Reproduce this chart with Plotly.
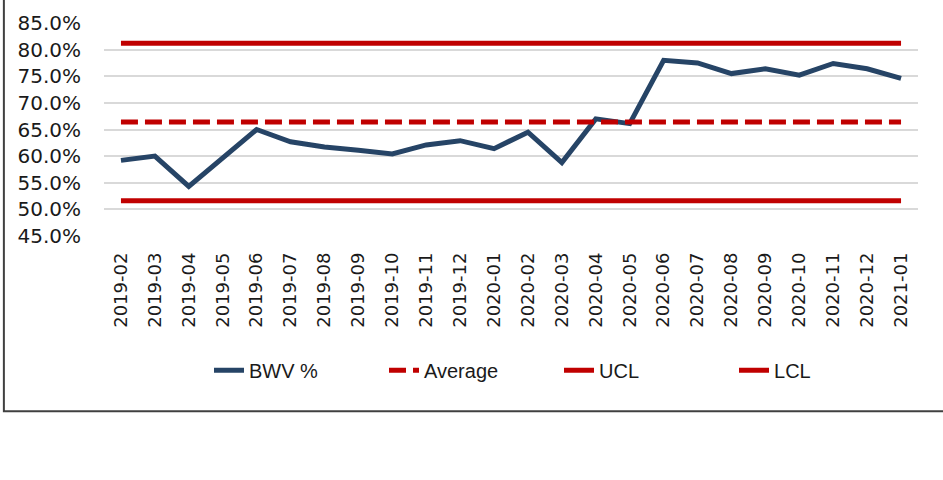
import plotly.graph_objects as go

months = ["2019-02", "2019-03", "2019-04", "2019-05", "2019-06", "2019-07", "2019-08",
          "2019-09", "2019-10", "2019-11", "2019-12", "2020-01", "2020-02", "2020-03",
          "2020-04", "2020-05", "2020-06", "2020-07", "2020-08", "2020-09", "2020-10",
          "2020-11", "2020-12", "2021-01"]
bwv = [0.592, 0.600, 0.543, 0.597, 0.650, 0.627, 0.617, 0.611, 0.604, 0.621, 0.629,
       0.614, 0.645, 0.588, 0.670, 0.661, 0.780, 0.775, 0.755, 0.764, 0.752, 0.774,
       0.764, 0.746]
average_value = 0.664
ucl_value = 0.812
lcl_value = 0.516

average = [average_value] * len(months)
ucl = [ucl_value] * len(months)
lcl = [lcl_value] * len(months)

NAVY = "#264466"
RED = "#C00000"

fig = go.Figure()
fig.add_trace(go.Scatter(x=months, y=bwv, name="BWV %", mode="lines",
                         line=dict(color=NAVY, width=5)))
fig.add_trace(go.Scatter(x=months, y=average, name="Average", mode="lines",
                         line=dict(color=RED, width=5, dash="17px,7px")))
fig.add_trace(go.Scatter(x=months, y=ucl, name="UCL", mode="lines",
                         line=dict(color=RED, width=5)))
fig.add_trace(go.Scatter(x=months, y=lcl, name="LCL", mode="lines",
                         line=dict(color=RED, width=5)))

fig.update_layout(
    width=943, height=480,
    margin=dict(l=104, r=25, t=23, b=244, autoexpand=False),
    paper_bgcolor="white", plot_bgcolor="white",
    font=dict(family="DejaVu Sans", size=18, color="#1a1a1a"),
    showlegend=True,
    legend=dict(orientation="h", x=0.129, xanchor="left", y=-0.63, yanchor="middle",
                font=dict(family="Liberation Sans", size=20, color="#1a1a1a"),
                entrywidth=130, entrywidthmode="pixels", bgcolor="rgba(0,0,0,0)"),
    xaxis=dict(type="category", range=[-0.5, len(months) - 0.5], tickangle=-90,
               showgrid=False, showline=False, zeroline=False, ticks="",
               ticklabelstandoff=12, automargin=False,
               tickfont=dict(family="DejaVu Sans", size=18)),
    yaxis=dict(range=[0.45, 0.85], dtick=0.05, tick0=0.45, tickformat=".1%",
               showgrid=True, gridcolor="#D9D9D9", gridwidth=2, zeroline=False,
               showline=False, ticks="", ticklabelstandoff=22, automargin=False,
               tickfont=dict(family="DejaVu Sans", size=20)),
    shapes=[dict(type="rect", xref="paper", yref="paper",
                 x0=-0.123, x1=1.05, y0=-0.823, y1=1.2,
                 line=dict(color="#404040", width=2), fillcolor="rgba(0,0,0,0)",
                 layer="below")],
)

fig.write_html("out.html", config={"displayModeBar": False},
               post_script="document.body.style.margin='0px';")
